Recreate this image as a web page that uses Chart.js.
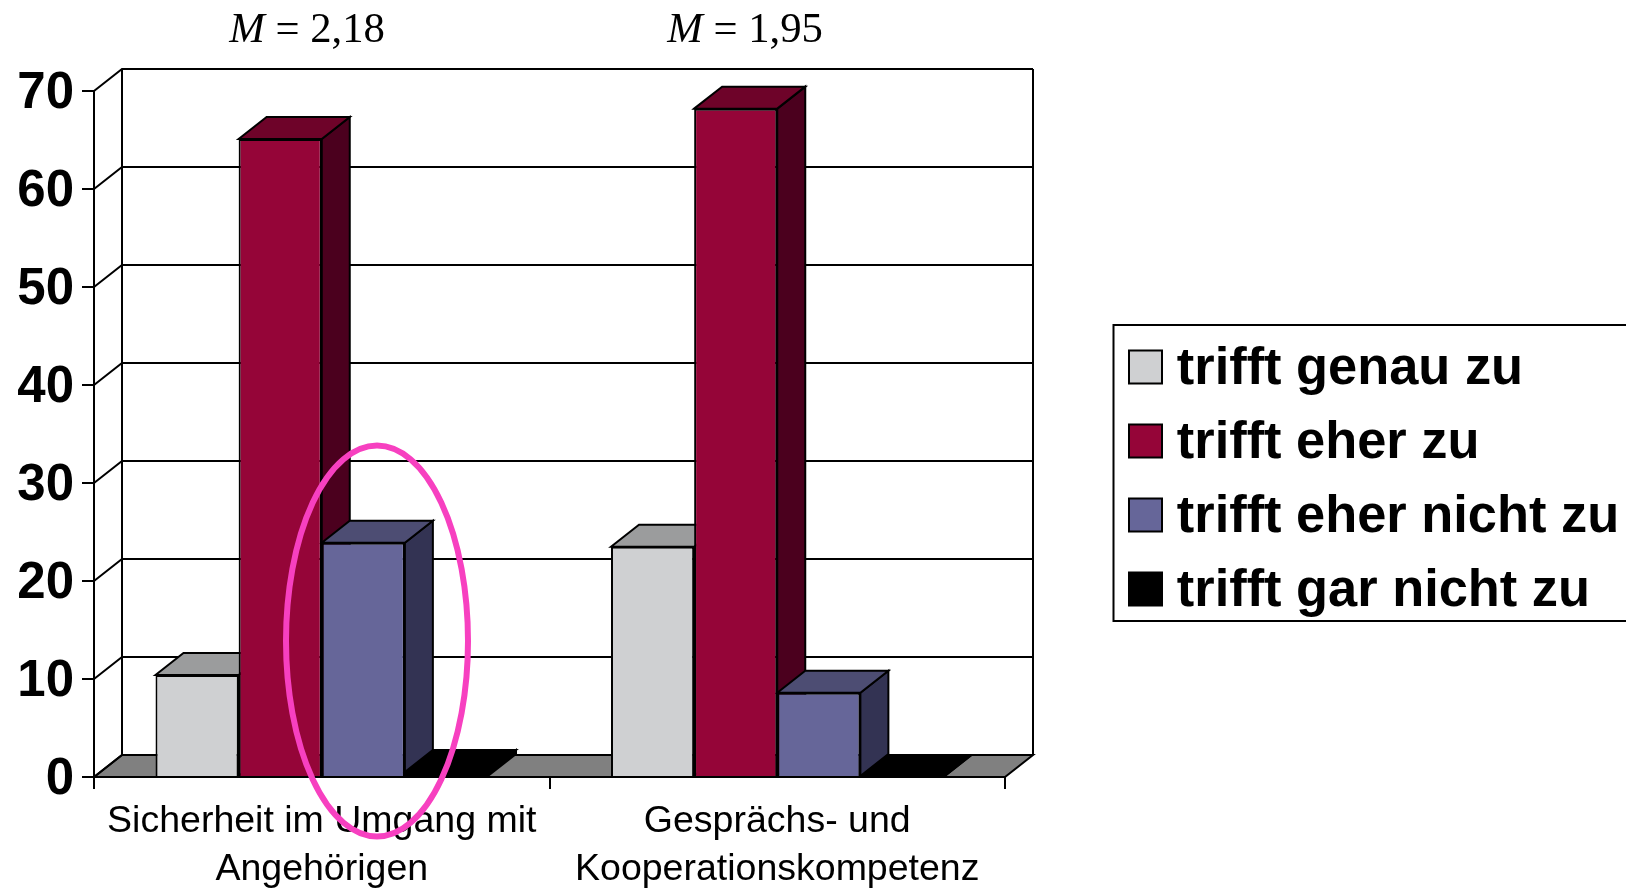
<!DOCTYPE html>
<html>
<head>
<meta charset="utf-8">
<title>Chart</title>
<style>
  html, body { margin: 0; padding: 0; background: #fff; overflow: hidden; }
  canvas { display: block; }
</style>
<script src="https://cdn.jsdelivr.net/npm/chart.js@4"></script>
</head>
<body>
<canvas id="myChart1" width="1626" height="889"></canvas>
<script>
// data
const categories = [["Sicherheit im Umgang mit", "Angehörigen"], ["Gesprächs- und", "Kooperationskompetenz"]];
const seriesNames = ["trifft genau zu", "trifft eher zu", "trifft eher nicht zu", "trifft gar nicht zu"];
const genau = [10.4, 23.5];
const eher = [65.1, 68.2];
const eherNicht = [23.9, 8.6];
const garNicht = [0.5, 0];
const meanValues = ["2,18", "1,95"];

// colours
const frontColors = ["#CFD0D2", "#950538", "#666699", "#000000"];
const topColors = ["#9B9C9D", "#6E0329", "#4D4D73", "#000000"];
const sideColors = ["#68686A", "#4B001E", "#333353", "#000000"];

// depth of the fake 3d box
const depthX = 28;
const depthY = 22;

const polygon = (ctx, points, fill, stroke) => {
    ctx.beginPath();
    ctx.moveTo(points[0][0], points[0][1]);
    for (let i = 1; i < points.length; i++) {
        ctx.lineTo(points[i][0], points[i][1]);
    }
    ctx.closePath();
    ctx.fillStyle = fill;
    ctx.fill();
    ctx.lineWidth = 2;
    ctx.strokeStyle = stroke;
    ctx.stroke();
};

// back wall, floor and the sides of the bars
const box3d = {
    id: "box3d",
    beforeDatasetsDraw(chart) {
        const ctx = chart.ctx;
        const x = chart.scales.x;
        const y = chart.scales.y;
        const left = x.left;
        const right = x.right;
        const floor = y.getPixelForValue(0);
        ctx.save();
        ctx.lineJoin = "miter";

        // floor
        polygon(ctx, [[left, floor], [left + depthX, floor - depthY], [right + depthX, floor - depthY], [right, floor]], "#808080", "#000");

        // grid lines on the wall
        ctx.strokeStyle = "#000";
        ctx.lineWidth = 2;
        y.ticks.forEach(tick => {
            const py = y.getPixelForValue(tick.value);
            ctx.beginPath();
            ctx.moveTo(left, py);
            ctx.lineTo(left + depthX, py - depthY);
            if (tick.value > 0) {
                ctx.lineTo(right + depthX, py - depthY);
            }
            ctx.stroke();
        });

        // wall edges
        const top = y.getPixelForValue(y.max);
        ctx.beginPath();
        ctx.moveTo(left + depthX, top - depthY);
        ctx.lineTo(left + depthX, floor - depthY);
        ctx.moveTo(right + depthX, top - depthY);
        ctx.lineTo(right + depthX, floor - depthY);
        ctx.stroke();

        // bar tops and sides, left to right
        for (let c = 0; c < categories.length; c++) {
            chart.data.datasets.forEach((ds, i) => {
                const bar = chart.getDatasetMeta(i).data[c].getProps(["x", "y", "base", "width"], true);
                const l = bar.x - bar.width / 2;
                const r = bar.x + bar.width / 2;
                polygon(ctx, [[r, bar.y], [r + depthX, bar.y - depthY], [r + depthX, bar.base - depthY], [r, bar.base]], sideColors[i], "#000");
                polygon(ctx, [[l, bar.y], [l + depthX, bar.y - depthY], [r + depthX, bar.y - depthY], [r, bar.y]], topColors[i], "#000");
            });
        }
        ctx.restore();
    }
};

// legend box sits off to the right, not inside the plot
const legendFont = 52.4;
const legendPad = 21.6;
const legendBox = 10;
const legendLeft = 1119;
const legendTop = 322;
const swatchX = 1129;
const swatchY = 367;
const swatch = 33;

const moveLegend = {
    id: "moveLegend",
    afterLayout(chart) {
        const legend = chart.legend;
        legend.left = legendLeft;
        legend.right = 1626;
        legend.top = legendTop;
        legend.bottom = 760;
        legend.width = legend.right - legend.left;
        legend.height = legend.bottom - legend.top;
    },
    afterDraw(chart) {
        const ctx = chart.ctx;
        ctx.save();
        // frame
        ctx.strokeStyle = "#000";
        ctx.lineWidth = 2;
        ctx.strokeRect(1113.5, 325, 530, 296);
        // swatches
        frontColors.forEach((color, i) => {
            const cy = swatchY + i * (legendFont + legendPad);
            ctx.fillStyle = color;
            ctx.fillRect(swatchX, cy - swatch / 2, swatch, swatch);
            ctx.strokeRect(swatchX, cy - swatch / 2, swatch, swatch);
        });
        ctx.restore();
    }
};

// the M = x,xx notes above the groups and the pink ellipse
const meanX = [307, 745];
const notes = {
    id: "notes",
    afterDraw(chart) {
        const ctx = chart.ctx;
        ctx.save();
        ctx.fillStyle = "#000";
        ctx.textBaseline = "alphabetic";
        ctx.textAlign = "left";
        meanValues.forEach((val, i) => {
            const rest = " = " + val;
            ctx.font = "italic 42.7px 'Liberation Serif'";
            const w1 = ctx.measureText("M").width;
            ctx.font = "42.7px 'Liberation Serif'";
            const w2 = ctx.measureText(rest).width;
            const start = meanX[i] - (w1 + w2) / 2;
            ctx.font = "italic 42.7px 'Liberation Serif'";
            ctx.fillText("M", start, 42);
            ctx.font = "42.7px 'Liberation Serif'";
            ctx.fillText(rest, start + w1, 42);
        });
        ctx.strokeStyle = "#F740C0";
        ctx.lineWidth = 6;
        ctx.beginPath();
        ctx.ellipse(377, 641, 91, 195.5, 0, 0, Math.PI * 2);
        ctx.stroke();
        ctx.restore();
    }
};

const makeChart = () => {
    const chart1 = document.getElementById("myChart1");
    Chart.defaults.font.family = "'Liberation Sans', Arial, sans-serif";
    Chart.defaults.color = "#000";

    const values = [genau, eher, eherNicht, garNicht];

    new Chart(chart1, {
        type: "bar",
        data: {
            labels: categories,
            datasets: seriesNames.map((name, i) => ({
                label: name,
                data: values[i],
                backgroundColor: frontColors[i],
                borderColor: "#000",
                borderWidth: 2,
                barPercentage: 1,
                categoryPercentage: 0.73
            }))
        },
        options: {
            responsive: false,
            animation: false,
            layout: { padding: { left: 0, top: 91, right: 621, bottom: 0 } },
            scales: {
                x: {
                    afterFit(scale) { scale.height = 112; },
                    grid: { drawOnChartArea: false, color: "#000", lineWidth: 2, tickLength: 12 },
                    border: { color: "#000", width: 2 },
                    ticks: {
                        padding: 8,
                        maxRotation: 0,
                        font: { size: 37.5, lineHeight: 1.3 }
                    }
                },
                y: {
                    min: 0,
                    max: 70,
                    afterFit(scale) { scale.width = 94; },
                    grid: { drawOnChartArea: false, color: "#000", lineWidth: 2, tickLength: 12 },
                    border: { color: "#000", width: 2 },
                    ticks: {
                        stepSize: 10,
                        padding: 8,
                        // empty first line pushes the number down a few px, like the original
                        callback: value => ["", String(value)],
                        font: { size: 51, weight: "bold", lineHeight: "6px" }
                    }
                }
            },
            plugins: {
                title: { display: false },
                tooltip: { enabled: false },
                legend: {
                    position: "chartArea",
                    align: "start",
                    labels: {
                        boxWidth: legendBox,
                        boxHeight: 0,
                        padding: legendPad,
                        font: { size: legendFont, weight: "bold" },
                        color: "#000",
                        generateLabels: chart => seriesNames.map((name, i) => ({
                            text: name,
                            fillStyle: "transparent",
                            strokeStyle: "transparent",
                            lineWidth: 0,
                            datasetIndex: i
                        }))
                    }
                }
            }
        },
        plugins: [box3d, moveLegend, notes]
    });
};

const init = () => {
    makeChart();
};

if (window.addEventListener) {
    window.addEventListener("load", init, false);
}
</script>
</body>
</html>
